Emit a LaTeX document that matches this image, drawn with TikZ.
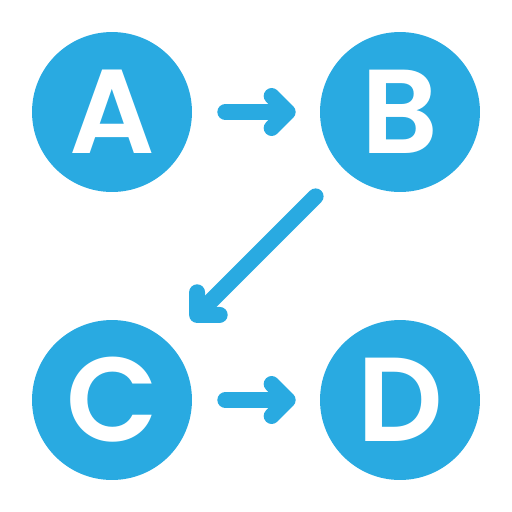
\documentclass[tikz,border=0pt]{standalone}
\usepackage{fontspec}
\newfontfamily\letterfont{Poppins}[UprightFont=* SemiBold]
\usepackage{xcolor}
\usetikzlibrary{arrows.meta}
\definecolor{iconblue}{HTML}{29AAE1}

\tikzset{
  letter/.style={circle, fill=iconblue, minimum size=3.2cm, inner sep=0pt,
    text=white, font=\letterfont\fontsize{68}{68}\selectfont},
  link/.style={draw=iconblue, line width=9.1pt, line cap=round, line join=round,
    -{Straight Barb[length=0.32cm, width=0.64cm, round]}}
}

\begin{document}
\begin{tikzpicture}[x=0.02cm, y=-0.02cm]
\useasboundingbox (0,0) rectangle (512,512);
\node[letter] (A) at (112,112) {A};
\node[letter] (B) at (400,112) {B};
\node[letter] (C) at (112,400) {C};
\node[letter] (D) at (400,400) {D};

\draw[link, shorten <=0.66cm, shorten >=0.48cm] (A) -- (B);
\draw[link, shorten <=0.78cm, shorten >=0.64cm] (B) -- (C);
\draw[link, shorten <=0.66cm, shorten >=0.48cm] (C) -- (D);
\end{tikzpicture}
\end{document}
